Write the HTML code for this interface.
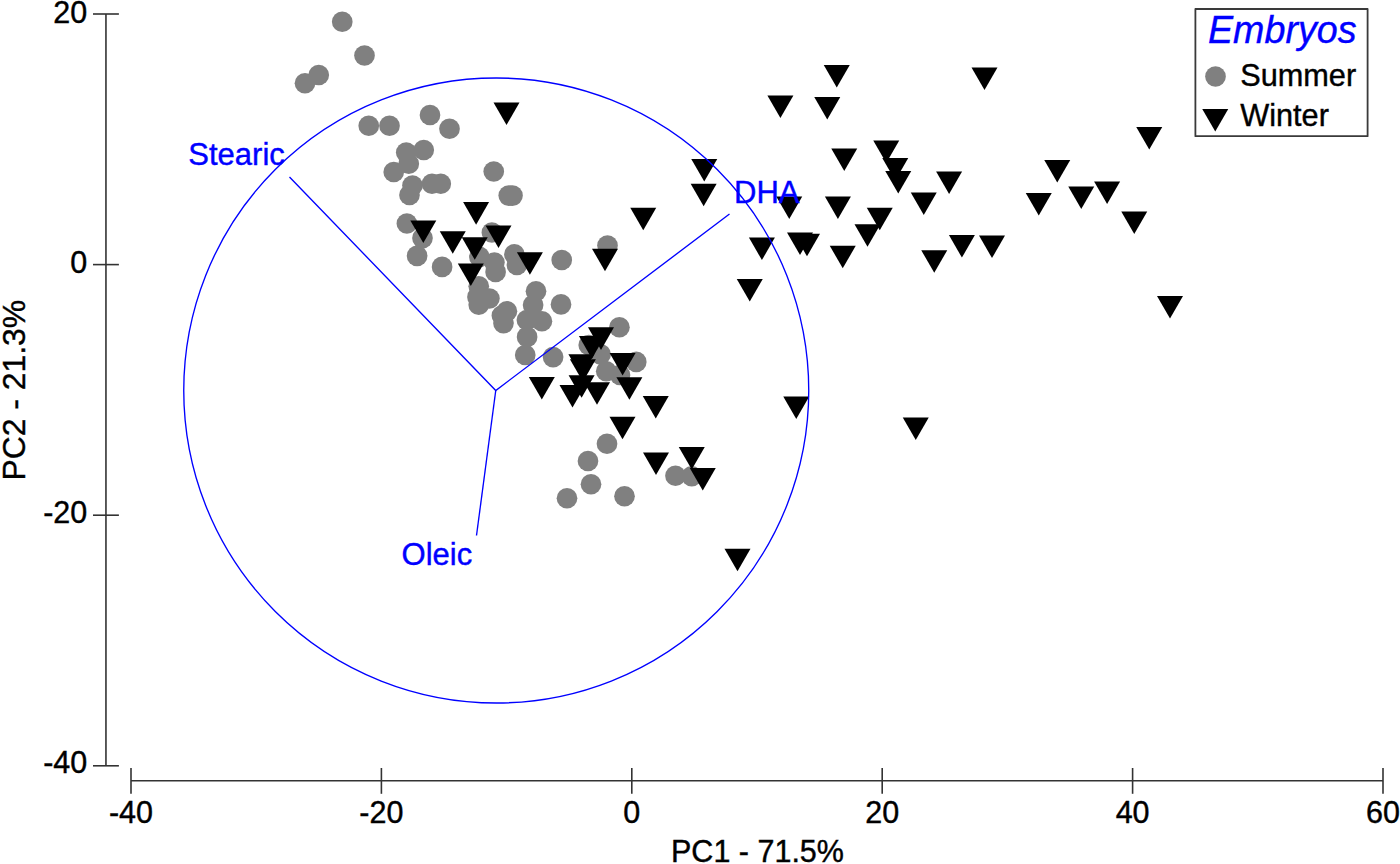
<!DOCTYPE html>
<html lang="en"><head><meta charset="utf-8"><title>PCA - Embryos</title>
<style>
html,body{margin:0;padding:0;background:#fff;}
body{width:1400px;height:864px;overflow:hidden;}
svg{display:block;}
text{font-family:"Liberation Sans",Arial,Helvetica,sans-serif;}
</style></head><body>
<svg width="1400" height="864" viewBox="0 0 1400 864">
<rect width="1400" height="864" fill="#fff"/>

<g stroke="#333" stroke-width="1.6" fill="none">
<path d="M105.95 14V765.8"/>
<path d="M93 14H118.9"/>
<path d="M93 264.6H118.9"/>
<path d="M93 515.2H118.9"/>
<path d="M93 765.8H118.9"/>
<path d="M131 780.8H1383"/>
<path d="M131 768V793.8"/>
<path d="M381.4 768V793.8"/>
<path d="M631.8 768V793.8"/>
<path d="M882.2 768V793.8"/>
<path d="M1132.6 768V793.8"/>
<path d="M1383 768V793.8"/>
</g>
<g font-size="30.5" fill="#000" stroke="#000" stroke-width="0.4">
<text x="87.3" y="23.1" text-anchor="end">20</text>
<text x="87.3" y="273.1" text-anchor="end">0</text>
<text x="87.3" y="523.2" text-anchor="end">-20</text>
<text x="87.3" y="773.2" text-anchor="end">-40</text>
<text x="131" y="823" text-anchor="middle">-40</text>
<text x="381.4" y="823" text-anchor="middle">-20</text>
<text x="631.8" y="823" text-anchor="middle">0</text>
<text x="882.2" y="823" text-anchor="middle">20</text>
<text x="1132.6" y="823" text-anchor="middle">40</text>
<text x="1383" y="823" text-anchor="middle">60</text>
<text x="757.5" y="862.3" text-anchor="middle">PC1 - 71.5%</text>
<text transform="translate(24.6 390.2) rotate(-90)" text-anchor="middle" font-size="31.9">PC2 - 21.3%</text>
</g>
<g fill="#808080">
<circle cx="342.25" cy="21.75" r="10.35"/>
<circle cx="364.5" cy="55.5" r="10.35"/>
<circle cx="318.75" cy="75" r="10.35"/>
<circle cx="305" cy="83.25" r="10.35"/>
<circle cx="368.75" cy="125.75" r="10.35"/>
<circle cx="389.5" cy="125.75" r="10.35"/>
<circle cx="430" cy="115" r="10.35"/>
<circle cx="449.5" cy="128.75" r="10.35"/>
<circle cx="423.75" cy="150" r="10.35"/>
<circle cx="406.25" cy="152.5" r="10.35"/>
<circle cx="408.75" cy="163.75" r="10.35"/>
<circle cx="393.75" cy="172" r="10.35"/>
<circle cx="412.5" cy="185.5" r="10.35"/>
<circle cx="409.5" cy="195" r="10.35"/>
<circle cx="432" cy="183.75" r="10.35"/>
<circle cx="440.75" cy="183.75" r="10.35"/>
<circle cx="493.75" cy="171.5" r="10.35"/>
<circle cx="508.75" cy="195.6" r="10.35"/>
<circle cx="512.5" cy="195.6" r="10.35"/>
<circle cx="406.9" cy="223.5" r="10.35"/>
<circle cx="422.5" cy="238.1" r="10.35"/>
<circle cx="417.1" cy="255.9" r="10.35"/>
<circle cx="442.1" cy="266.9" r="10.35"/>
<circle cx="491.9" cy="232.5" r="10.35"/>
<circle cx="479.4" cy="256.9" r="10.35"/>
<circle cx="494.4" cy="262.5" r="10.35"/>
<circle cx="495.6" cy="271.9" r="10.35"/>
<circle cx="514.4" cy="254.4" r="10.35"/>
<circle cx="516.9" cy="265" r="10.35"/>
<circle cx="478.75" cy="286.25" r="10.35"/>
<circle cx="477.5" cy="296.9" r="10.35"/>
<circle cx="489.4" cy="298.5" r="10.35"/>
<circle cx="478.75" cy="304.75" r="10.35"/>
<circle cx="506.9" cy="311.25" r="10.35"/>
<circle cx="501.9" cy="315.6" r="10.35"/>
<circle cx="503.5" cy="323.1" r="10.35"/>
<circle cx="536" cy="291.25" r="10.35"/>
<circle cx="533.1" cy="305" r="10.35"/>
<circle cx="561" cy="304.4" r="10.35"/>
<circle cx="526.9" cy="320" r="10.35"/>
<circle cx="541.9" cy="321.25" r="10.35"/>
<circle cx="527.1" cy="336.9" r="10.35"/>
<circle cx="525.25" cy="355" r="10.35"/>
<circle cx="553.1" cy="357.1" r="10.35"/>
<circle cx="619.4" cy="327.25" r="10.35"/>
<circle cx="588.75" cy="345" r="10.35"/>
<circle cx="600.6" cy="354.4" r="10.35"/>
<circle cx="606.25" cy="371.25" r="10.35"/>
<circle cx="620" cy="375" r="10.35"/>
<circle cx="636.25" cy="361.9" r="10.35"/>
<circle cx="607.5" cy="245.5" r="10.35"/>
<circle cx="561.75" cy="260" r="10.35"/>
<circle cx="607" cy="443.75" r="10.35"/>
<circle cx="588" cy="461" r="10.35"/>
<circle cx="591" cy="484.25" r="10.35"/>
<circle cx="567" cy="498.25" r="10.35"/>
<circle cx="624.5" cy="496.25" r="10.35"/>
<circle cx="675.5" cy="475.75" r="10.35"/>
<circle cx="691.75" cy="476.25" r="10.35"/>
</g>
<g fill="#000">
<path d="M493.50 102.50H519.50L506.50 125.10Z"/>
<path d="M463.10 202.10H489.10L476.10 224.70Z"/>
<path d="M410.30 220.40H436.30L423.30 243.00Z"/>
<path d="M485.50 225.40H511.50L498.50 248.00Z"/>
<path d="M439.75 231.25H465.75L452.75 253.85Z"/>
<path d="M461.75 237.25H487.75L474.75 259.85Z"/>
<path d="M516.90 252.25H542.90L529.90 274.85Z"/>
<path d="M457.80 263.50H483.80L470.80 286.10Z"/>
<path d="M592.00 248.75H618.00L605.00 271.35Z"/>
<path d="M823.75 65.00H849.75L836.75 87.60Z"/>
<path d="M767.40 95.50H793.40L780.40 118.10Z"/>
<path d="M814.25 97.00H840.25L827.25 119.60Z"/>
<path d="M873.25 140.50H899.25L886.25 163.10Z"/>
<path d="M831.25 148.50H857.25L844.25 171.10Z"/>
<path d="M882.25 158.00H908.25L895.25 180.60Z"/>
<path d="M885.25 171.00H911.25L898.25 193.60Z"/>
<path d="M691.25 159.00H717.25L704.25 181.60Z"/>
<path d="M690.65 183.70H716.65L703.65 206.30Z"/>
<path d="M910.75 192.50H936.75L923.75 215.10Z"/>
<path d="M824.90 196.50H850.90L837.90 219.10Z"/>
<path d="M776.25 196.50H802.25L789.25 219.10Z"/>
<path d="M866.75 207.75H892.75L879.75 230.35Z"/>
<path d="M630.25 207.75H656.25L643.25 230.35Z"/>
<path d="M971.50 67.50H997.50L984.50 90.10Z"/>
<path d="M1136.25 127.00H1162.25L1149.25 149.60Z"/>
<path d="M1044.25 160.00H1070.25L1057.25 182.60Z"/>
<path d="M936.10 171.50H962.10L949.10 194.10Z"/>
<path d="M1094.10 181.50H1120.10L1107.10 204.10Z"/>
<path d="M1068.25 186.50H1094.25L1081.25 209.10Z"/>
<path d="M1025.75 193.00H1051.75L1038.75 215.60Z"/>
<path d="M1121.25 211.40H1147.25L1134.25 234.00Z"/>
<path d="M748.90 237.50H774.90L761.90 260.10Z"/>
<path d="M787.00 232.50H813.00L800.00 255.10Z"/>
<path d="M794.00 233.75H820.00L807.00 256.35Z"/>
<path d="M829.75 245.75H855.75L842.75 268.35Z"/>
<path d="M854.50 224.25H880.50L867.50 246.85Z"/>
<path d="M921.25 250.25H947.25L934.25 272.85Z"/>
<path d="M736.75 279.00H762.75L749.75 301.60Z"/>
<path d="M783.25 396.50H809.25L796.25 419.10Z"/>
<path d="M948.90 235.00H974.90L961.90 257.60Z"/>
<path d="M979.00 235.50H1005.00L992.00 258.10Z"/>
<path d="M1157.00 296.00H1183.00L1170.00 318.60Z"/>
<path d="M588.00 327.30H614.00L601.00 349.90Z"/>
<path d="M578.90 336.10H604.90L591.90 358.70Z"/>
<path d="M609.60 352.90H635.60L622.60 375.50Z"/>
<path d="M568.40 354.20H594.40L581.40 376.80Z"/>
<path d="M569.90 359.20H595.90L582.90 381.80Z"/>
<path d="M568.60 375.20H594.60L581.60 397.80Z"/>
<path d="M528.80 376.90H554.80L541.80 399.50Z"/>
<path d="M616.40 377.25H642.40L629.40 399.85Z"/>
<path d="M584.00 382.25H610.00L597.00 404.85Z"/>
<path d="M559.50 385.00H585.50L572.50 407.60Z"/>
<path d="M642.75 396.00H668.75L655.75 418.60Z"/>
<path d="M609.50 416.75H635.50L622.50 439.35Z"/>
<path d="M643.00 452.50H669.00L656.00 475.10Z"/>
<path d="M678.75 447.00H704.75L691.75 469.60Z"/>
<path d="M689.75 468.00H715.75L702.75 490.60Z"/>
<path d="M724.50 548.75H750.50L737.50 571.35Z"/>
<path d="M902.75 417.50H928.75L915.75 440.10Z"/>
</g>
<g stroke="#0000ff" stroke-width="1.35" fill="none">
<circle cx="496.25" cy="390.5" r="312.5"/>
<path d="M289.5 177L495.75 390.5L729.5 214"/>
<path d="M495.75 390.5L476.5 535.5"/>
</g>
<g font-size="31" fill="#0000ff" stroke="#0000ff" stroke-width="0.4">
<text x="188.3" y="165.3">Stearic</text>
<text x="734" y="203.2">DHA</text>
<text x="401.6" y="565.2">Oleic</text>
</g>
<rect x="1195.4" y="9" width="172.2" height="127.2" fill="#fff" stroke="#3a3a3a" stroke-width="1.8" stroke-linejoin="round"/>
<text x="1208" y="43" font-size="39" textLength="148.5" lengthAdjust="spacingAndGlyphs" font-style="italic" fill="#0000ff" stroke="#0000ff" stroke-width="0.4">Embryos</text>
<circle cx="1215.5" cy="76.5" r="10.35" fill="#808080"/>
<g fill="#000"><path d="M1202.25 109.00H1228.25L1215.25 131.60Z"/></g>
<text x="1240.2" y="85.6" font-size="30.7" fill="#000" stroke="#000" stroke-width="0.4">Summer</text>
<text x="1240.2" y="125.6" font-size="30.7" fill="#000" stroke="#000" stroke-width="0.4">Winter</text>
</svg></body></html>
